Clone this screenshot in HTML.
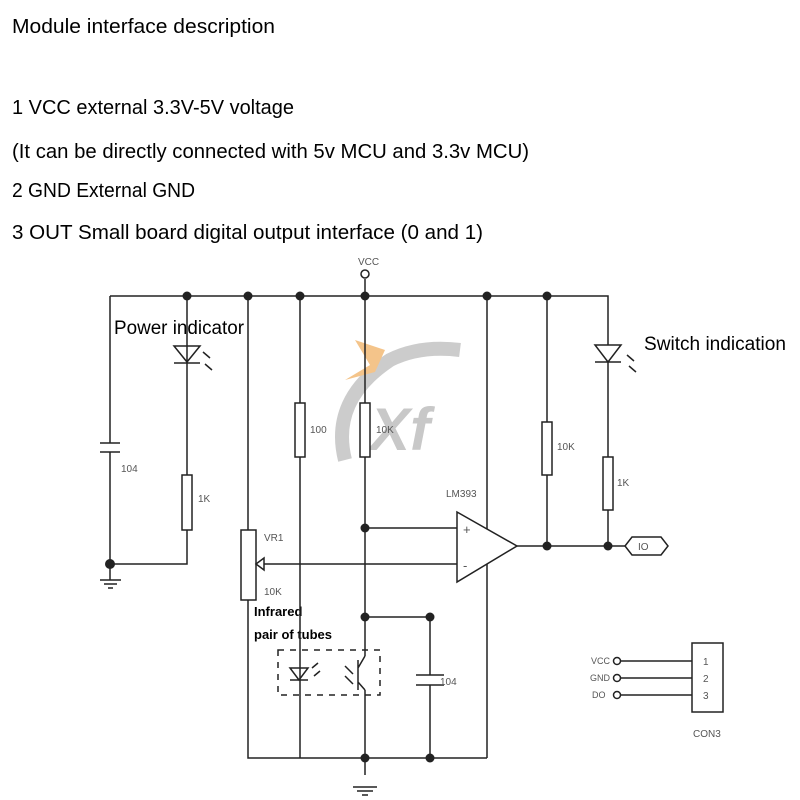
<!DOCTYPE html>
<html><head><meta charset="utf-8"><style>body{margin:0;background:#fff}svg{display:block}</style></head>
<body>
<svg width="800" height="800" viewBox="0 0 800 800" xmlns="http://www.w3.org/2000/svg">
<rect width="800" height="800" fill="#fff"/>
<g font-family="Liberation Sans, sans-serif" font-size="20" fill="#000">
<text x="12" y="33" textLength="263" lengthAdjust="spacingAndGlyphs">Module interface description</text>
<text x="12" y="114" textLength="282" lengthAdjust="spacingAndGlyphs">1 VCC external 3.3V-5V voltage</text>
<text x="12" y="158" textLength="517" lengthAdjust="spacingAndGlyphs">(It can be directly connected with 5v MCU and 3.3v MCU)</text>
<text x="12" y="197" textLength="183" lengthAdjust="spacingAndGlyphs">2 GND External GND</text>
<text x="12" y="239" textLength="471" lengthAdjust="spacingAndGlyphs">3 OUT Small board digital output interface (0 and 1)</text>
<text x="114" y="334" font-size="19" textLength="130" lengthAdjust="spacingAndGlyphs">Power indicator</text>
<text x="644" y="350" font-size="19" textLength="142" lengthAdjust="spacingAndGlyphs">Switch indication</text>
<text x="254" y="616" font-size="13" font-weight="bold">Infrared</text>
<text x="254" y="639" font-size="13" font-weight="bold">pair of tubes</text>
</g>
<!-- watermark -->
<path d="M345 460 Q330 400 390 360 Q420 345 460 350" stroke="#ccc" stroke-width="14" fill="none"/>
<text x="370" y="450" font-family="Liberation Sans, sans-serif" font-size="60" font-weight="bold" font-style="italic" fill="#c8c8c8">Xf</text>
<path d="M355 340 L370 365 L345 380 L375 372 L385 350 Z" fill="#f4c48a"/>
<g stroke="#222" stroke-width="1.5" fill="none">
<!-- top rail -->
<path d="M110 296 H608 V345"/>
<path d="M365 296 V279"/>
<circle cx="365" cy="274" r="4" fill="#fff"/>
<!-- left cap branch -->
<path d="M110 296 V443 M110 452 V564 H187 V530 M100 443 H120 M100 452 H120"/>
<path d="M110 564 V580 M100 580 H121 M104 584 H117 M108 588 H113"/>
<!-- LED power -->
<path d="M187 296 V475 M174 346 H200 L187 362 Z M174 363 H200"/>
<path d="M203 352 l7 6 M205 364 l7 6"/>
<rect x="182" y="475" width="10" height="55" fill="#fff"/>
<!-- VR1 -->
<path d="M248 296 V530 M248 600 V758 H487"/>
<rect x="241" y="530" width="15" height="70" fill="#fff"/>
<path d="M256 564 L264 558 V570 Z M264 564 H457"/>
<!-- 100 -->
<path d="M300 296 V758"/>
<rect x="295" y="403" width="10" height="54" fill="#fff"/>
<!-- 10K center -->
<path d="M365 296 V656 M365 690 V775 M365 528 H457 M365 617 H430 V675 M430 685 V758"/>
<rect x="360" y="403" width="10" height="54" fill="#fff"/>
<path d="M416 675 H444 M416 685 H444"/>
<path d="M353 787 H377 M357 791 H373 M362 795 H368"/>
<!-- transistor -->
<path d="M358 660 V690 M358 668 L365 656 M358 682 L365 690"/>
<path d="M345 666 l8 8 M345 676 l8 8"/>
<!-- IR LED -->
<path d="M290 668 H308 L299 680 Z M290 680 H308"/>
<path d="M312 668 l6 -5 M314 676 l6 -5"/>
<rect x="278" y="650" width="102" height="45" stroke-dasharray="6,6"/>
<!-- right side -->
<path d="M487 296 V758"/>
<path d="M457 512 L517 546 L457 582 Z" fill="#fff"/>
<path d="M517 546 H625 M547 296 V546 M608 362 V546"/>
<rect x="542" y="422" width="10" height="53" fill="#fff"/>
<rect x="603" y="457" width="10" height="53" fill="#fff"/>
<path d="M595 345 H621 L608 362 Z M595 362 H621"/>
<path d="M627 355 l7 6 M629 366 l7 6"/>
<path d="M625 546 L632 537 H661 L668 546 L661 555 H632 Z"/>
<!-- CON3 -->
<rect x="692" y="643" width="31" height="69"/>
<path d="M621 661 H692 M621 678 H692 M621 695 H692"/>
<circle cx="617" cy="661" r="3.5"/><circle cx="617" cy="678" r="3.5"/><circle cx="617" cy="695" r="3.5"/>
</g>
<g fill="#222">
<circle cx="187" cy="296" r="4.5"/><circle cx="248" cy="296" r="4.5"/><circle cx="300" cy="296" r="4.5"/>
<circle cx="365" cy="296" r="4.5"/><circle cx="487" cy="296" r="4.5"/><circle cx="547" cy="296" r="4.5"/>
<circle cx="110" cy="564" r="5"/><circle cx="365" cy="528" r="4.5"/><circle cx="365" cy="617" r="4.5"/>
<circle cx="430" cy="617" r="4.5"/><circle cx="365" cy="758" r="4.5"/><circle cx="430" cy="758" r="4.5"/>
<circle cx="547" cy="546" r="4.5"/><circle cx="608" cy="546" r="4.5"/>
</g>
<g font-family="Liberation Sans Narrow, Liberation Sans, sans-serif" font-size="10" fill="#555">
<text x="358" y="265">VCC</text>
<text x="121" y="472">104</text>
<text x="198" y="502">1K</text>
<text x="310" y="433">100</text>
<text x="376" y="433">10K</text>
<text x="446" y="497">LM393</text>
<text x="264" y="541">VR1</text>
<text x="264" y="595">10K</text>
<text x="440" y="685">104</text>
<text x="557" y="450">10K</text>
<text x="617" y="486">1K</text>
<text x="638" y="550">IO</text>
<text x="463" y="534" font-size="13">+</text>
<text x="463" y="570" font-size="13">-</text>
<text x="591" y="664" font-size="9">VCC</text>
<text x="590" y="681" font-size="9">GND</text>
<text x="592" y="698" font-size="9">DO</text>
<text x="703" y="665">1</text>
<text x="703" y="682">2</text>
<text x="703" y="699">3</text>
<text x="693" y="737">CON3</text>
</g>
</svg>
</body></html>
